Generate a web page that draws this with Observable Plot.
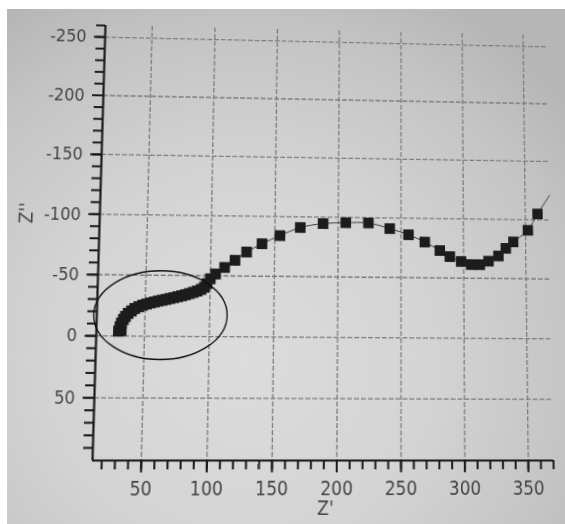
<!DOCTYPE html>
<html><head><meta charset="utf-8">
<script src="https://cdn.jsdelivr.net/npm/d3@7"></script>
<script src="https://cdn.jsdelivr.net/npm/@observablehq/plot@0.6"></script>
<style>
html,body{margin:0;padding:0;background:#fff;}
#wrap{position:relative;width:565px;height:524px;overflow:hidden;background:#fff;}
#photo{position:absolute;left:7px;top:9px;width:558px;height:515px;
  background:radial-gradient(ellipse 75% 80% at 42% 68%, #dcdcdc 0%, #d4d4d4 45%, #c4c4c4 80%, #b6b6b6 100%);}
#chart{position:absolute;left:0;top:0;transform-origin:0 0;}
</style></head><body>
<div id="wrap"><div id="photo"></div><div id="chart"></div></div>
<script>
const zRe = [30, 32, 31, 32, 33.5, 35, 37, 39.5, 42, 45, 48, 51, 54, 57, 60, 63, 66, 69, 72, 75, 78, 81, 84, 87, 90, 93, 95.5, 97.5,
  100, 104, 111, 119, 128, 140, 154, 170, 188, 206, 224, 241, 256, 269, 281, 289, 298, 306, 313, 320, 328, 334, 340, 352, 360];
const zIm = [-4, -4.5, -7.5, -10.5, -13.5, -16, -18.5, -20.5, -22.5, -24, -25.3, -26.3, -27.2, -28, -28.8, -29.5, -30.2, -31, -31.7, -32.5, -33.3, -34.2, -35.2, -36.2, -37.3, -38.7, -40.5, -43.5,
  -47.5, -51.5, -57, -63, -70, -77, -84, -91, -94.5, -95.5, -95.5, -91, -86, -80, -73, -68, -64, -61.5, -61.5, -64.5, -69, -75.5, -81, -91, -105];
// fitted curve continues past the last point
const tailRe = [370];
const tailIm = [-121];
// annotation ellipse (data units)
const ringCenter = [62.5, -17];
const ringRadii = [51.5, 36.3];
// ticks
const xTicks = [50, 100, 150, 200, 250, 300, 350];
const yTicks = [-250, -200, -150, -100, -50, 0, 50];
const xMinor = d3.range(20, 371, 10);
const yMinor = d3.range(-260, 91, 10);

const FONT = "'Liberation Sans Narrow','DejaVu Sans Condensed','Liberation Sans',Arial,sans-serif";
const fmt = d => (d < 0 ? "-" + (-d) : String(d));
const pts = zRe.map((x, i) => ({x, y: zIm[i]}));
const linePts = pts.concat(tailRe.map((x, i) => ({x, y: tailIm[i]})));
const INK = "#1a1a1a", TXT = "#444", GRID = "#7c7c7c";

const plot = Plot.plot({
  width: 565, height: 524,
  marginLeft: 92, marginRight: 12, marginTop: 25, marginBottom: 64,
  style: {background: "transparent", fontFamily: FONT, overflow: "visible"},
  x: {domain: [13, 370]},
  y: {domain: [100, -260]},
  marks: [
    Plot.gridX(xTicks, {stroke: GRID, strokeOpacity: 1, strokeWidth: 1.3, strokeDasharray: "5,2"}),
    Plot.gridY(yTicks, {stroke: GRID, strokeOpacity: 1, strokeWidth: 1.3, strokeDasharray: "5,2"}),
    Plot.line(linePts, {x: "x", y: "y", stroke: "#3a3a3a", strokeWidth: 1, curve: "catmull-rom"}),
    Plot.dot(pts, {x: "x", y: "y", symbol: "square", r: 6.1, fill: "#1c1c1c", stroke: "none"}),
    Plot.ruleX([13], {stroke: INK, strokeWidth: 2.2}),
    Plot.ruleY([100], {stroke: INK, strokeWidth: 2.2}),
    Plot.axisX(xMinor, {tickSize: 9, tickFormat: () => "", stroke: INK, strokeWidth: 2, label: null}),
    Plot.axisX(xTicks, {tickSize: 12, tickPadding: 8, tickFormat: fmt, fontSize: 19, fill: TXT, stroke: INK, strokeWidth: 2, label: null}),
    Plot.axisY(yMinor, {tickSize: 9, tickFormat: () => "", stroke: INK, strokeWidth: 2, label: null}),
    Plot.axisY(yTicks, {tickSize: 11, tickPadding: 8, tickFormat: fmt, fontSize: 18, fill: TXT, stroke: INK, strokeWidth: 2, label: null}),
    Plot.text(["Z'"], {frameAnchor: "bottom", dy: 52, fontSize: 19, fill: TXT}),
    Plot.text(["Z''"], {frameAnchor: "left", dx: -73, dy: -14, rotate: -90, fontSize: 19, fill: TXT})
  ]
});

// annotation ellipse placed through the plot's scales
const sx = plot.scale("x"), sy = plot.scale("y");
const cx = sx.apply(ringCenter[0]), cy = sy.apply(ringCenter[1]);
d3.select(plot).append("ellipse")
  .attr("cx", cx).attr("cy", cy)
  .attr("rx", Math.abs(sx.apply(ringCenter[0] + ringRadii[0]) - cx))
  .attr("ry", Math.abs(sy.apply(ringCenter[1] + ringRadii[1]) - cy))
  .attr("fill", "none").attr("stroke", "#111").attr("stroke-width", 1.3);

document.getElementById("chart").appendChild(plot);

// photo perspective: map the plot frame corners to where they sit in the picture
function homography(src, dst) {
  const A = [], b = [];
  for (let i = 0; i < 4; i++) {
    const [x, y] = src[i], [u, v] = dst[i];
    A.push([x, y, 1, 0, 0, 0, -u * x, -u * y]); b.push(u);
    A.push([0, 0, 0, x, y, 1, -v * x, -v * y]); b.push(v);
  }
  const n = 8;
  for (let c = 0; c < n; c++) {
    let p = c;
    for (let r = c + 1; r < n; r++) if (Math.abs(A[r][c]) > Math.abs(A[p][c])) p = r;
    [A[c], A[p]] = [A[p], A[c]]; [b[c], b[p]] = [b[p], b[c]];
    for (let r = 0; r < n; r++) {
      if (r === c) continue;
      const f = A[r][c] / A[c][c];
      for (let k = c; k < n; k++) A[r][k] -= f * A[c][k];
      b[r] -= f * b[c];
    }
  }
  return b.map((v, i) => v / A[i][i]);
}
const h = homography(
  [[92, 25], [553, 25], [92, 460], [553, 460]],
  [[105, 25], [546.7, 35], [92, 460], [553, 460]]
);
document.getElementById("chart").style.transform =
  `matrix3d(${h[0]},${h[3]},0,${h[6]},${h[1]},${h[4]},0,${h[7]},0,0,1,0,${h[2]},${h[5]},0,1)`;
</script>
</body></html>
